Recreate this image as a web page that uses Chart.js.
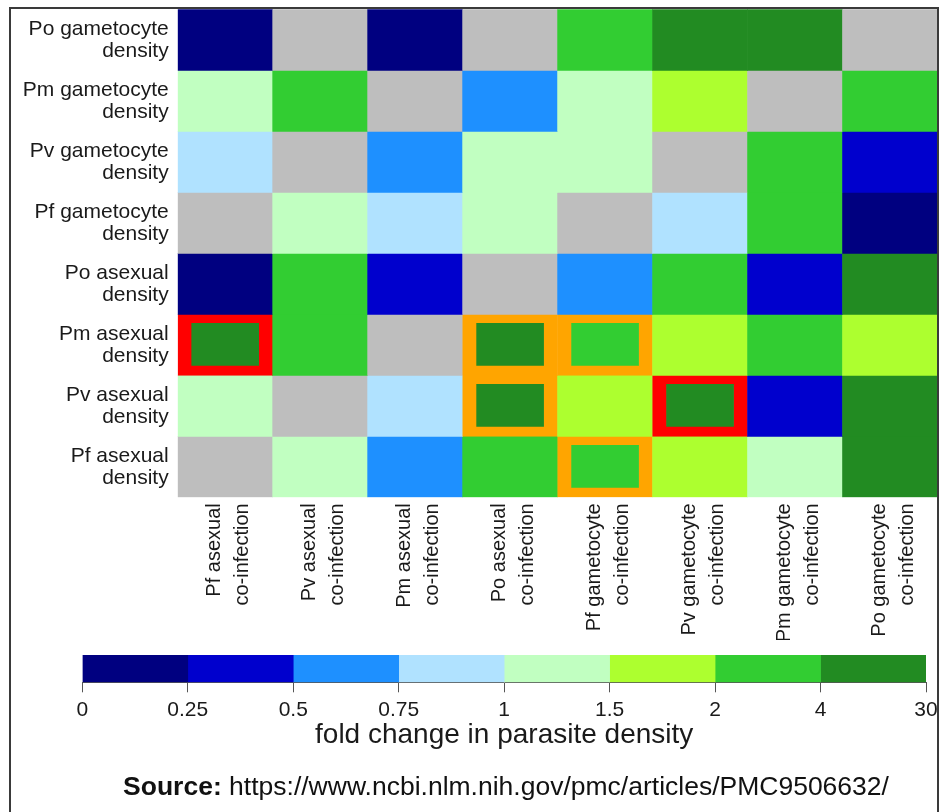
<!DOCTYPE html>
<html>
<head>
<meta charset="utf-8">
<script src="https://cdn.jsdelivr.net/npm/chart.js@4"></script>
<style>
  html, body { margin: 0; padding: 0; background: #fff; overflow: hidden; }
  #page { position: relative; width: 940px; height: 812px; }
  #heatWrap { position: absolute; left: 0; top: 0; width: 940px; height: 640px; }
  #barWrap { position: absolute; left: 0; top: 640px; width: 940px; height: 115px; }
  #frame { position: absolute; left: 9px; top: 7px; width: 926px; height: 830px;
           border: 2px solid #3a3a3a; pointer-events: none; }
  #source { position: absolute; left: 106px; top: 773px; width: 800px; text-align: center;
            font: 26.5px/26px "Liberation Sans", Arial, sans-serif; color: #111; white-space: nowrap; }
</style>
</head>
<body>
<div id="page">
  <div id="heatWrap"><canvas id="heatChart"></canvas></div>
  <div id="barWrap"><canvas id="scaleChart"></canvas></div>
  <div id="frame"></div>
  <div id="source"><b>Source:</b> https://www.ncbi.nlm.nih.gov/pmc/articles/PMC9506632/</div>
</div>
<script>
// Rader och kolumner
const rowLabels = [
    ["Po gametocyte", "density"],
    ["Pm gametocyte", "density"],
    ["Pv gametocyte", "density"],
    ["Pf gametocyte", "density"],
    ["Po asexual", "density"],
    ["Pm asexual", "density"],
    ["Pv asexual", "density"],
    ["Pf asexual", "density"]
];
const colLabels = [
    ["Pf asexual", "co-infection"],
    ["Pv asexual", "co-infection"],
    ["Pm asexual", "co-infection"],
    ["Po asexual", "co-infection"],
    ["Pf gametocyte", "co-infection"],
    ["Pv gametocyte", "co-infection"],
    ["Pm gametocyte", "co-infection"],
    ["Po gametocyte", "co-infection"]
];

// Fold change per rad (null = grå)
const poGametocyte = [0.1, null, 0.1, null, 3, 8, 8, null];
const pmGametocyte = [1.2, 3, null, 0.6, 1.2, 1.8, null, 3];
const pvGametocyte = [0.9, null, 0.6, 1.2, 1.2, null, 3, 0.4];
const pfGametocyte = [null, 1.2, 0.9, 1.2, null, 0.9, 3, 0.1];
const poAsexual = [0.1, 3, 0.4, null, 0.6, 3, 0.4, 8];
const pmAsexual = [8, 3, null, 8, 3, 1.8, 3, 1.8];
const pvAsexual = [1.2, null, 0.9, 8, 1.8, 8, 0.4, 8];
const pfAsexual = [null, 1.2, 0.6, 3, 3, 1.8, 1.2, 8];
const rows = [poGametocyte, pmGametocyte, pvGametocyte, pfGametocyte,
              poAsexual, pmAsexual, pvAsexual, pfAsexual];

// Markerade celler: [rad, kolumn, nivå] (2 = röd, 1 = orange)
const markedCells = [[5, 0, 2], [5, 3, 1], [5, 4, 1], [6, 3, 1], [6, 5, 2], [7, 4, 1]];

// Färgskala
const breaks = [0, 0.25, 0.5, 0.75, 1, 1.5, 2, 4, 30];
const breakLabels = ["0", "0.25", "0.5", "0.75", "1", "1.5", "2", "4", "30"];
const binColors = ["#000080", "#0000CD", "#1E90FF", "#B0E2FF",
                   "#C1FFC1", "#ADFF2F", "#32CD32", "#228B22"];
const naColor = "#BEBEBE";
const markColors = { 1: "#FFA500", 2: "#FF0000" };

const fontFamily = '"Liberation Sans", Arial, sans-serif';
const textColor = "#1a1a1a";

function colorFor(v) {
    if (v === null) return naColor;
    for (let i = 0; i < binColors.length; i++) {
        if (v < breaks[i + 1]) return binColors[i];
    }
    return binColors[binColors.length - 1];
}

function markOf(r, c) {
    const m = markedCells.find(cell => cell[0] === r && cell[1] === c);
    return m ? m[2] : 0;
}

// nollställ etikettmarginaler så att diagramytan hamnar rätt
function noPad(s) {
    s.paddingLeft = 0;
    s.paddingRight = 0;
    s.paddingTop = 0;
    s.paddingBottom = 0;
}

// Värmekarta
new Chart(document.getElementById("heatChart"), {
    type: "bar",
    data: {
        labels: colLabels,
        datasets: rows.map((vals, r) => ({
            data: vals.map(() => [r, r + 1]),
            backgroundColor: vals.map(colorFor),
            borderColor: vals.map((v, c) => markColors[markOf(r, c)] || "rgba(0,0,0,0)"),
            borderWidth: ctx => markOf(r, ctx.dataIndex)
                ? { top: 9, bottom: 10, left: 14, right: 14 } : 0,
            borderSkipped: false,
            barPercentage: 1,
            categoryPercentage: 1,
            grouped: false
        }))
    },
    options: {
        responsive: true,
        maintainAspectRatio: false,
        animation: false,
        layout: { padding: { left: 0, right: 2.5, top: 9.3, bottom: 0 } },
        plugins: { legend: { display: false }, tooltip: { enabled: false } },
        scales: {
            x: {
                type: "category",
                afterFit: s => { s.height = 640 - 497.3; noPad(s); },
                grid: { display: false, drawTicks: false },
                border: { display: false },
                ticks: {
                    minRotation: 90,
                    maxRotation: 90,
                    autoSkip: false,
                    padding: 6,
                    labelOffset: -11,
                    color: textColor,
                    font: { family: fontFamily, size: 20, lineHeight: 1.4 }
                }
            },
            y: {
                type: "linear",
                min: 0,
                max: 8,
                reverse: true,
                afterBuildTicks: s => { s.ticks = rowLabels.map((_, i) => ({ value: i + 0.5 })); },
                afterFit: s => { s.width = 177.7; noPad(s); },
                grid: { display: false, drawTicks: false },
                border: { display: false },
                ticks: {
                    autoSkip: false,
                    padding: 9,
                    color: textColor,
                    font: { family: fontFamily, size: 21, lineHeight: 1.05 },
                    callback: (v, i) => rowLabels[i]
                }
            }
        }
    }
});

// Färgskala
new Chart(document.getElementById("scaleChart"), {
    type: "bar",
    data: {
        labels: ["fold"],
        datasets: binColors.map((col, i) => ({
            data: [[i, i + 1]],
            backgroundColor: col,
            borderWidth: 0,
            barPercentage: 1,
            categoryPercentage: 1,
            grouped: false
        }))
    },
    options: {
        indexAxis: "y",
        responsive: true,
        maintainAspectRatio: false,
        animation: false,
        layout: { padding: { left: 82.3, right: 14, top: 15, bottom: 0 } },
        plugins: { legend: { display: false }, tooltip: { enabled: false } },
        scales: {
            x: {
                type: "linear",
                min: 0,
                max: breaks.length - 1,
                afterBuildTicks: s => { s.ticks = breaks.map((_, i) => ({ value: i })); },
                afterFit: s => { s.height = 115 - 15 - 27.3; noPad(s); },
                grid: { drawOnChartArea: false, drawTicks: true, tickLength: 10, color: "#555", lineWidth: 1 },
                border: { display: true, color: "#555", width: 1 },
                ticks: {
                    autoSkip: false,
                    maxRotation: 0,
                    padding: 5,
                    color: textColor,
                    font: { family: fontFamily, size: 21 },
                    callback: (v, i) => breakLabels[i]
                },
                title: {
                    display: true,
                    text: "fold change in parasite density",
                    color: textColor,
                    font: { family: fontFamily, size: 28 },
                    padding: { top: 0, bottom: 3 }
                }
            },
            y: { display: false }
        }
    }
});
</script>
</body>
</html>
